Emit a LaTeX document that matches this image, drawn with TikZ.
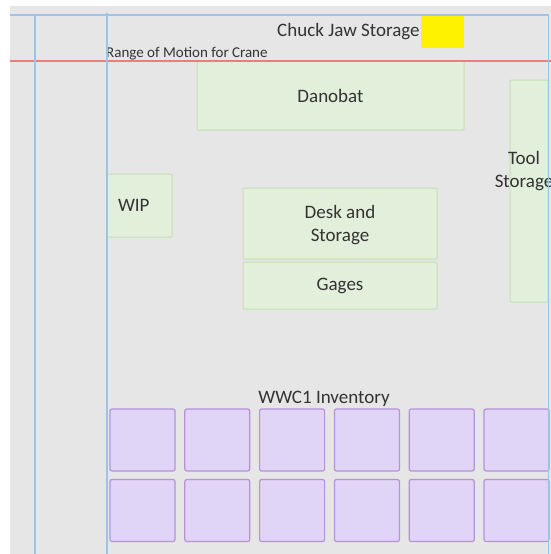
\documentclass[tikz,border=0pt]{standalone}
\usepackage{fontspec}
\setmainfont{Carlito}
\usetikzlibrary{positioning}
\definecolor{floorgray}{RGB}{230,230,230}
\definecolor{zonefill}{RGB}{226,239,218}
\definecolor{zoneline}{RGB}{197,224,180}
\definecolor{binfill}{RGB}{224,212,247}
\definecolor{binline}{RGB}{185,145,215}
\definecolor{guideblue}{RGB}{157,195,230}
\definecolor{craneline}{RGB}{237,125,125}
\tikzset{
  basic/.style   = {draw, rectangle, font=\fontsize{19}{23}\selectfont, text=black!80,
                    align=center},
  zone/.style    = {basic, fill=zonefill, draw=zoneline, line width=1pt, rounded corners=1pt},
  bin/.style     = {basic, fill=binfill, draw=binline, line width=1.2pt,
                    rounded corners=2pt, minimum width=65pt, minimum height=62pt,
                    inner sep=0pt},
  caption/.style = {font=\fontsize{19}{23}\selectfont, text=black!80, inner sep=0pt},
  guide/.style   = {draw=guideblue, line width=1.2pt}
}
\begin{document}
\begin{tikzpicture}[x=1pt,y=-1pt]
\useasboundingbox (0,0) rectangle (551,554);
\fill[floorgray] (10,6) rectangle (551,554);

% storage on top
\node[caption, anchor=base west] (chuck) at (277,36) {Chuck Jaw Storage};
\node[fill=yellow, minimum width=43pt, minimum height=33pt, inner sep=0pt] (jaw) at (442.5,31.5) {};

% machines and areas
\node[zone, minimum width=267pt, minimum height=69pt] (danobat) at (330.5,95.5) {Danobat};
\node[zone, minimum height=63pt, text width=43pt, inner xsep=11pt, align=left] (wip) at (139.5,205.5) {WIP};
\node[zone, minimum width=194pt, minimum height=71pt] (desk) at (340,223.5) {\strut Desk and\\Storage};
\node[zone, minimum width=194pt, minimum height=47pt, below=2pt of desk] (gages) {Gages};
\node[zone, minimum width=38pt, minimum height=222pt] (tool) at (529,191) {};
\node[caption, align=center] (toolText) at (524,171.5) {Tool\\Storage};

% crane range
\draw[craneline, line width=1.2pt] (10,61) -- (551,61);
\node[caption, font=\fontsize{15}{18}\selectfont, anchor=base west] (range) at (106,57) {Range of Motion for Crane};

% inventory bins
\node[caption] (invText) at (324,399) {WWC1 Inventory};
\foreach \row/\y in {1/440,2/510.5}
  \foreach \col in {1,...,6}
    \node[bin] (bin\row\col) at ({142.5+74.8*(\col-1)},\y) {};

% guide lines
\draw[guide] (10,15) -- (548.5,15);
\draw[guide] (35,15) -- (35,554);
\draw[guide] (107,13) -- (107,554);
\draw[guide] (548.5,15) -- (548.5,554);
\end{tikzpicture}
\end{document}
